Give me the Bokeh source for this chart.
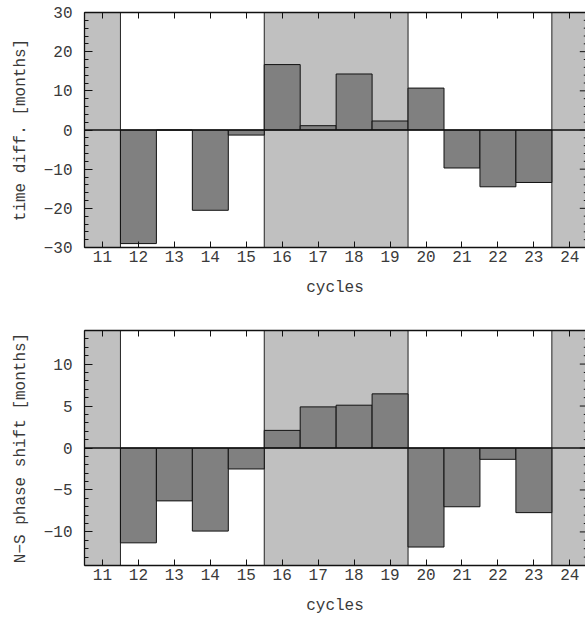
from bokeh.plotting import figure
from bokeh.layouts import column
from bokeh.models import Span, FixedTicker, LinearAxis, Range1d
from bokeh.embed import file_html
from bokeh.resources import INLINE

# ---- data ----
cycles = [12, 13, 14, 15, 16, 17, 18, 19, 20, 21, 22, 23]
time_diff = [-29.0, 0.0, -20.5, -1.3, 16.7, 1.1, 14.3, 2.3, 10.7, -9.7, -14.5, -13.4]
ns_shift = [-11.3, -6.3, -9.9, -2.5, 2.1, 4.9, 5.1, 6.45, -11.8, -7.0, -1.35, -7.7]
shade_first = [11, 16, 24]
shade_last = [11, 19, 24]
x_ticks = list(range(11, 25))
top_yticks = [-30, -20, -10, 0, 10, 20, 30]
top_yminor = list(range(-30, 31, 2))
bot_yticks = [-10, -5, 0, 5, 10]
bot_yminor = list(range(-14, 15, 1))

FONT = "Liberation Mono"
FS = "16px"
TXT = "#3a3a3a"
XMIN, XMAX = 10.5, 24.5


def tick_label(v):
    return ("\u2212" + str(-v)) if v < 0 else str(v)


def make_panel(values, ylo, yhi, yticks, yminor, ylabel, height, bborder):
    p = figure(width=585, height=height, output_backend="svg", toolbar_location=None,
               x_range=Range1d(XMIN, 24.436), y_range=Range1d(ylo, yhi),
               min_border_left=84, min_border_right=0, min_border_top=12,
               min_border_bottom=bborder, x_axis_location=None, y_axis_location=None)
    p.outline_line_color = None
    p.xgrid.visible = False
    p.ygrid.visible = False
    p.background_fill_color = "white"
    p.border_fill_color = "white"

    left = [f - 0.5 for f in shade_first]
    right = [l + 0.5 for l in shade_last]
    p.quad(left=left, right=right, bottom=[ylo] * 3, top=[yhi] * 3,
           fill_color="#c0c0c0", line_color="#222222", line_width=1)
    p.vbar(x=cycles, top=values, bottom=0, width=1.0,
           fill_color="#808080", line_color="#111111", line_width=1)
    p.add_layout(Span(location=0, dimension="width", line_color="#111111", line_width=1.5))

    # right-hand inward ticks: the right frame edge lies just outside the window,
    # so only the tips show (dash markers centred on x=24.5, clipped by the frame)
    minor_only = [v for v in yminor if v not in yticks]
    p.scatter(x=[XMAX] * len(yticks), y=yticks, marker="dash", size=16,
              line_color="#111111", line_width=1)
    p.scatter(x=[XMAX] * len(minor_only), y=minor_only, marker="dash", size=8,
              line_color="#111111", line_width=1)

    xt = FixedTicker(ticks=x_ticks)
    yt = FixedTicker(ticks=yticks, minor_ticks=yminor)
    overrides_y = {v: tick_label(v) for v in yticks}

    def style(ax, labels=True):
        ax.axis_line_color = "#111111"
        ax.axis_line_width = 1.3
        ax.major_tick_line_color = "#111111"
        ax.minor_tick_line_color = "#111111"
        ax.major_tick_line_width = 1
        ax.minor_tick_line_width = 1
        ax.major_tick_out = 0
        ax.minor_tick_out = 0
        if labels:
            ax.major_label_text_font = FONT
            ax.major_label_text_font_size = FS
            ax.major_label_text_color = TXT
            ax.axis_label_text_font = FONT
            ax.axis_label_text_font_size = FS
            ax.axis_label_text_color = TXT
            ax.axis_label_text_font_style = "normal"
        else:
            ax.major_label_text_font_size = "0px"
            ax.major_label_text_color = None
            ax.major_label_standoff = 0

    xb = LinearAxis(ticker=xt, axis_label="cycles")
    style(xb)
    xb.major_tick_in = 6
    xb.minor_tick_in = 0
    xb.major_label_standoff = 3
    xb.axis_label_standoff = 14
    p.add_layout(xb, "below")

    xa = LinearAxis(ticker=xt)
    style(xa, labels=False)
    xa.major_tick_in = 6
    xa.minor_tick_in = 0
    p.add_layout(xa, "above")

    yl = LinearAxis(ticker=yt, axis_label=ylabel, major_label_overrides=overrides_y)
    style(yl)
    yl.major_tick_in = 8
    yl.minor_tick_in = 4
    yl.major_label_standoff = 12
    yl.axis_label_standoff = 11
    p.add_layout(yl, "left")
    return p


p1 = make_panel(time_diff, -30, 30, top_yticks, top_yminor, "time diff. [months]", 318, 71)
p2 = make_panel(ns_shift, -14, 14, bot_yticks, bot_yminor, "N\u2212S phase shift [months]", 310, 63)

layout = column(p1, p2, spacing=0)
open("out.html", "w").write(file_html(layout, INLINE))
